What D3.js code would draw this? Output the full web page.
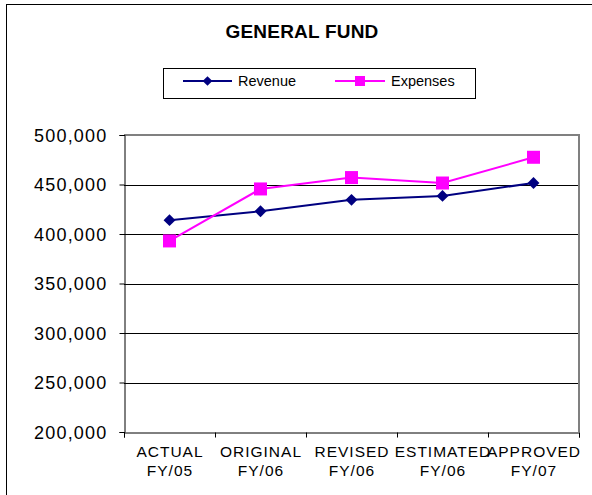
<!DOCTYPE html>
<html><head><meta charset="utf-8">
<script src="https://cdn.jsdelivr.net/npm/d3@7"></script>
<style>
html,body{margin:0;padding:0;background:#fff;}
svg{display:block;font-family:Arial,"Liberation Sans",sans-serif;}
</style></head>
<body><svg id="c" width="592" height="495"></svg>
<script>
const title = "GENERAL FUND";
const categories = [["ACTUAL","FY/05"],["ORIGINAL","FY/06"],["REVISED","FY/06"],["ESTIMATED","FY/06"],["APPROVED","FY/07"]];
const revenue = [414000, 423000, 434500, 438500, 451500];
const expenses = [393000, 445500, 457000, 451500, 477500];
const yTicks = [200000, 250000, 300000, 350000, 400000, 450000, 500000];
const seriesNames = ["Revenue", "Expenses"];
const seriesColors = ["#000080", "#FF00FF"];

const svg = d3.select("#c");
// outer frame (right/bottom edges lie beyond the picture)
svg.append("rect").attr("x",6.5).attr("y",4.5).attr("width",640).attr("height",540)
  .attr("fill","none").attr("stroke","#000").attr("stroke-width",1);

const L=124, R=579, T=135, B=432;
const x = d3.scaleBand().domain(categories.map((d,i)=>i)).range([L,R]);
const y = d3.scaleLinear().domain([200000,500000]).range([B,T]);

// title
svg.append("text").attr("x",302).attr("y",38).attr("text-anchor","middle")
  .attr("font-size",19).attr("font-weight","bold").attr("letter-spacing",0.2).text(title);

// gridlines
svg.append("g").selectAll("line").data(yTicks.filter(v=>v>200000 && v<500000)).join("line")
  .attr("x1",L).attr("x2",R).attr("y1",d=>Math.round(y(d))+0.5).attr("y2",d=>Math.round(y(d))+0.5)
  .attr("stroke","#000").attr("stroke-width",1);

// plot border top/right (gray)
svg.append("path").attr("d",`M${L},${T} H${R} V${B}`).attr("fill","none")
  .attr("stroke","#808080").attr("stroke-width",2);

// y axis
const yAxis = d3.axisLeft(y).tickValues(yTicks).tickSize(5).tickPadding(12)
  .tickFormat(d3.format(","));
const gy = svg.append("g").attr("transform",`translate(${L+0.5},0)`).call(yAxis);
gy.select(".domain").attr("stroke","#000");
gy.selectAll(".tick line").attr("stroke","#000");
gy.selectAll("text").attr("font-size",18).attr("letter-spacing",1.2).attr("fill","#000")
  .attr("font-family","Arial,'Liberation Sans',sans-serif").attr("dy","0.36em");

// x axis
const xb = d3.scaleLinear().domain([0,5]).range([L,R]);
const xAxis = d3.axisBottom(xb).tickValues([0,1,2,3,4,5]).tickSize(5).tickFormat("");
const gx = svg.append("g").attr("transform",`translate(0,${B+0.5})`).call(xAxis);
gx.select(".domain").attr("stroke","#000");
gx.selectAll(".tick line").attr("stroke","#000");

const xl = svg.append("g");
categories.forEach((c,i)=>{
  const xc = x(i)+x.bandwidth()/2+0.5;
  const t = xl.append("text").attr("x",xc).attr("y",457)
    .attr("text-anchor","middle").attr("font-size",15.5).attr("letter-spacing",1).attr("fill","#000");
  t.append("tspan").attr("x",xc).attr("dy",0).text(c[0]);
  t.append("tspan").attr("x",xc).attr("dy",19).text(c[1]);
});

// lines
const cx = i => x(i)+x.bandwidth()/2;
const line = d3.line().x((d,i)=>cx(i)).y(d=>y(d));
[revenue, expenses].forEach((s,k)=>{
  svg.append("path").datum(s).attr("d",line).attr("fill","none")
    .attr("stroke",seriesColors[k]).attr("stroke-width",2);
});
const diamond = d3.symbol().type(d3.symbolDiamond2).size(90);
svg.append("g").selectAll("path").data(revenue).join("path")
  .attr("transform",(d,i)=>`translate(${cx(i)},${y(d)})`).attr("d",diamond).attr("fill","#000080");
svg.append("g").selectAll("rect").data(expenses).join("rect")
  .attr("x",(d,i)=>cx(i)-6.5).attr("y",d=>y(d)-6.5).attr("width",13).attr("height",13).attr("fill","#FF00FF");

// legend
const lg = svg.append("g");
lg.append("rect").attr("x",163.5).attr("y",68.5).attr("width",312).attr("height",30)
  .attr("fill","#fff").attr("stroke","#000").attr("stroke-width",1);
const ly = 81;
const items = [{x0:183, x1:232, tx:238}, {x0:335, x1:385, tx:391}];
items.forEach((it,k)=>{
  lg.append("line").attr("x1",it.x0).attr("x2",it.x1).attr("y1",ly).attr("y2",ly)
    .attr("stroke",seriesColors[k]).attr("stroke-width",2);
  const mx=(it.x0+it.x1)/2;
  if(k===0) lg.append("path").attr("transform",`translate(${mx},${ly})`).attr("d",d3.symbol().type(d3.symbolDiamond2).size(60)).attr("fill",seriesColors[0]);
  else lg.append("rect").attr("x",mx-5).attr("y",ly-5).attr("width",10).attr("height",10).attr("fill",seriesColors[1]);
  lg.append("text").attr("x",it.tx).attr("y",ly+5).attr("font-size",14.5).attr("fill","#000").text(seriesNames[k]);
});
</script></body></html>
